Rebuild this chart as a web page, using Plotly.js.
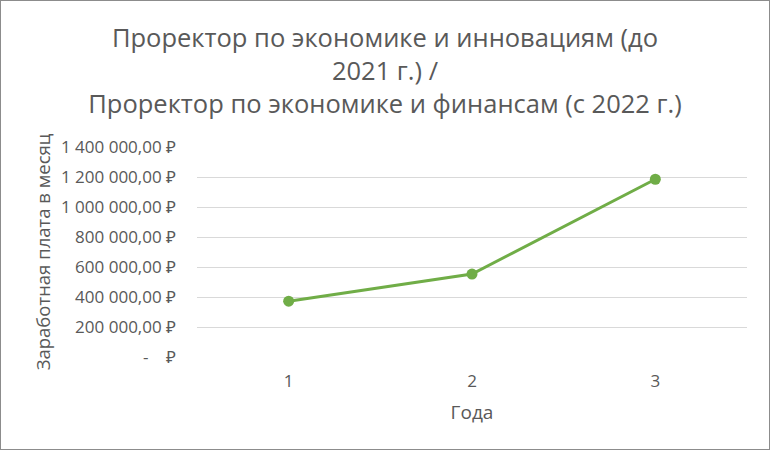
<!DOCTYPE html>
<html>
<head>
<meta charset="utf-8">
<script src="https://cdn.plot.ly/plotly-3.0.1.min.js"></script>
<style>
  body { margin: 0; background: #fff; }
  #chart { width: 768px; height: 448px; border: 1px solid #8c8c8c; }
</style>
</head>
<body>
<div id="chart"></div>
<script>
    // Зарплата проректора по годам
    const years = [1, 2, 3];
    const salary = [372000, 553000, 1185000];

    const yTickVals = [0, 200000, 400000, 600000, 800000, 1000000, 1200000, 1400000];
    const yTickText = [
        "-\u00a0\u00a0\u00a0\u00a0₽",
        "200 000,00 ₽",
        "400 000,00 ₽",
        "600 000,00 ₽",
        "800 000,00 ₽",
        "1 000 000,00 ₽",
        "1 200 000,00 ₽",
        "1 400 000,00 ₽",
    ];

    const fontFamily = "'Open Sans', 'Noto Sans', sans-serif";
    const gray = "#595959";

    const trace = {
        x: years,
        y: salary,
        mode: "lines+markers",
        line: { color: "#70ad47", width: 3 },
        marker: { color: "#70ad47", size: 11 },
        hoverinfo: "x+y",
    };

    const layout = {
        width: 768,
        height: 448,
        paper_bgcolor: "#ffffff",
        plot_bgcolor: "#ffffff",
        font: { family: fontFamily, color: gray },
        showlegend: false,
        title: {
            text: "Проректор по экономике и инновациям (до<br>2021 г.) /<br>Проректор по экономике и финансам (с 2022 г.)",
            font: { size: 25.5, color: gray, family: fontFamily },
            x: 0.5,
            xref: "container",
            y: 1 - 46 / 448,
            yref: "container",
            yanchor: "top",
        },
        xaxis: {
            range: [0.5, 3.5],
            tickvals: years,
            ticktext: years.map(String),
            showgrid: false,
            zeroline: false,
            showline: false,
            ticks: "",
            ticklabelstandoff: 12,
            tickfont: { size: 17, color: gray },
            title: { text: "Года", font: { size: 19, color: gray }, standoff: 14 },
        },
        yaxis: {
            range: [0, 1400000],
            tickvals: yTickVals,
            ticktext: yTickText,
            showgrid: true,
            gridcolor: "#d9d9d9",
            gridwidth: 1.3,
            zeroline: false,
            showline: false,
            ticks: "",
            ticklabelstandoff: 20,
            tickfont: { size: 17, color: gray },
            title: { text: "Заработная плата в месяц", font: { size: 18.5, color: gray }, standoff: 5 },
        },
        margin: { l: 196, r: 22, t: 146, b: 92 },
    };

    Plotly.newPlot("chart", [trace], layout, { displayModeBar: false, responsive: false });
</script>
</body>
</html>
